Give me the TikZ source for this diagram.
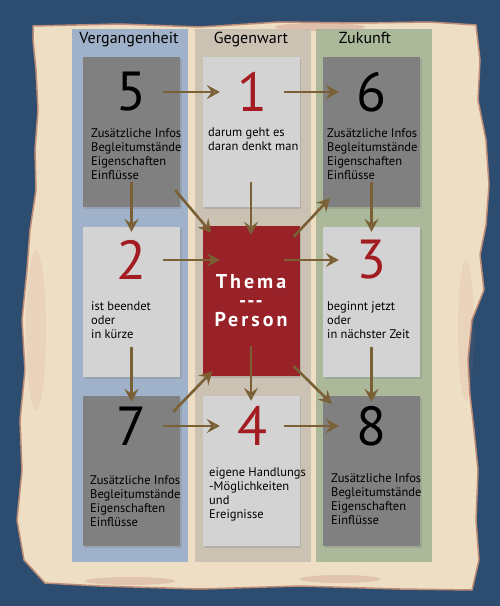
\documentclass[tikz,border=0pt]{standalone}
\usepackage{fontspec}
\setmainfont{PT Sans}
\usetikzlibrary{arrows.meta,shadows}

\definecolor{deskblue}{RGB}{44,77,112}
\definecolor{paper}{RGB}{238,222,196}
\definecolor{paperedge}{RGB}{190,140,118}
\definecolor{stain}{RGB}{190,120,110}
\definecolor{pastband}{RGB}{152,174,202}
\definecolor{nowband}{RGB}{201,191,179}
\definecolor{futureband}{RGB}{164,181,150}
\definecolor{darkbox}{RGB}{128,128,128}
\definecolor{lightbox}{RGB}{211,211,211}
\definecolor{themared}{RGB}{152,34,40}
\definecolor{numred}{RGB}{162,28,34}
\definecolor{arrowbrown}{RGB}{122,96,52}

\tikzset{
  band/.style={minimum width=116pt, minimum height=533pt, inner sep=0pt, opacity=.9},
  coltitle/.style={font=\fontsize{16}{16}\selectfont, anchor=base},
  card/.style={minimum width=97pt, minimum height=150pt, inner sep=0pt,
    drop shadow={opacity=.3, shadow xshift=1.5pt, shadow yshift=-1.5pt}},
  darkcard/.style={card, fill=darkbox},
  lightcard/.style={card, fill=lightbox},
  num/.style={font=\fontsize{55}{55}\selectfont, minimum width=64pt, inner sep=0pt},
  info/.style={font=\fontsize{12.5}{14}\selectfont, align=left, anchor=north west, inner sep=0pt},
  flow/.style={draw=arrowbrown, line width=2.6pt,
    -{Stealth[open,length=13pt,width=14pt,inset=5pt]}}
}

\begin{document}
\begin{tikzpicture}[x=1pt,y=-1pt]
    \useasboundingbox (0,0) rectangle (500,606);
    % desk
    \fill[deskblue] (0,0) rectangle (500,606);
    % paper sheet
    \filldraw[fill=paper, draw=paperedge, line width=1.5pt, line join=round]
      (33,26) -- (120,24) -- (200,27) -- (280,22) -- (360,23) -- (430,22) -- (476,25)
      -- (480,60) -- (478,100) -- (486,140) -- (489,185) -- (486,225) -- (480,255)
      -- (484,290) -- (472,320) -- (468,360) -- (470,395) -- (474,430) -- (478,470)
      -- (476,520) -- (479,560) -- (472,590) -- (400,589) -- (300,586) -- (200,589)
      -- (100,586) -- (45,583) -- (24,560) -- (17,520) -- (22,470) -- (20,420)
      -- (25,370) -- (22,320) -- (27,270) -- (30,230) -- (36,190) -- (35,150)
      -- (38,110) -- (36,70) -- (33,40) -- cycle;
    % stains
    \fill[stain, opacity=.3] (320,27) ellipse [x radius=45, y radius=4];
    \fill[stain, opacity=.25] (130,581) ellipse [x radius=45, y radius=4];
    \fill[stain, opacity=.25] (340,579) ellipse [x radius=40, y radius=4];
    \fill[stain, opacity=.1] (36,330) ellipse [x radius=10, y radius=80];
    \fill[stain, opacity=.1] (466,330) ellipse [x radius=8, y radius=70];
    % column bands
    \node[band, fill=pastband] (past) at (129.5,295.5) {};
    \node[band, fill=nowband] (now) at (252.5,295.5) {};
    \node[band, fill=futureband] (future) at (374,295.5) {};
    \node[coltitle] (tpast) at (129,43) {Vergangenheit};
    \node[coltitle] (tnow) at (251,43) {Gegenwart};
    \node[coltitle] (tfuture) at (365,43) {Zukunft};
    % cards
    \node[darkcard] (b5) at (131.5,132) {};
    \node[lightcard] (b1) at (251,132) {};
    \node[darkcard] (b6) at (371.5,132) {};
    \node[lightcard] (b2) at (131.5,302) {};
    \node[card, fill=themared, text=white, align=center,
      font=\fontsize{20}{19}\selectfont\bfseries\addfontfeatures{LetterSpace=15}]
      (thema) at (251,301) {Thema\\-\kern1pt-\kern1pt-\\Person};
    \node[lightcard] (b3) at (371.5,302) {};
    \node[darkcard] (b7) at (131.5,471) {};
    \node[lightcard] (b4) at (251,471) {};
    \node[darkcard] (b8) at (371.5,471) {};
    % numbers
    \node[num] (n5) at (131,92) {5};
    \node[num, text=numred] (n1) at (252,92) {1};
    \node[num] (n6) at (371,92) {6};
    \node[num, text=numred] (n2) at (131,260) {2};
    \node[num] (nmid) at (252,260) {};
    \node[num, text=numred] (n3) at (371,260) {3};
    \node[num] (n7) at (131,426) {7};
    \node[num, text=numred] (n4) at (252,426) {4};
    \node[num] (n8) at (371,426) {8};
    % texts
    \node[info] (i5) at (91,128) {Zusätzliche Infos\\Begleitumstände\\Eigenschaften\\Einflüsse};
    \node[info] (i1) at (208,128) {darum geht es\\daran denkt man};
    \node[info] (i6) at (327,128) {Zusätzliche Infos\\Begleitumstände\\Eigenschaften\\Einflüsse};
    \node[info] (i2) at (91,301) {ist beendet\\oder\\in kürze};
    \node[info] (i3) at (327,301) {beginnt jetzt\\oder\\in nächster Zeit};
    \node[info] (i7) at (90,475) {Zusätzliche Infos\\Begleitumstände\\Eigenschaften\\Einflüsse};
    \node[info] (i4) at (209,467) {eigene Handlungs\\-Möglichkeiten\\und\\Ereignisse};
    \node[info] (i8) at (331,473) {Zusätzliche Infos\\Begleitumstände\\Eigenschaften\\Einflüsse};
    % arrows along the rows
    \draw[flow] (n5) -- (n1);
    \draw[flow] (n1) -- (n6);
    \draw[flow] (n2) -- (nmid);
    \draw[flow] (nmid) -- (n3);
    \draw[flow] (n7) -- (n4);
    \draw[flow] (n4) -- (n8);
    % arrows down the columns
    \draw[flow] ([yshift=25pt]b5.south) -- ([yshift=-5pt]b2.north);
    \draw[flow] ([yshift=25pt]b1.south) -- ([yshift=-9pt]thema.north);
    \draw[flow] ([yshift=25pt]b6.south) -- ([yshift=-5pt]b3.north);
    \draw[flow] ([yshift=30pt]b2.south) -- ([yshift=-6pt]b7.north);
    \draw[flow] ([yshift=30pt]thema.south) -- ([yshift=-5pt]b4.north);
    \draw[flow] ([yshift=30pt]b3.south) -- ([yshift=-6pt]b8.north);
    % diagonal arrows
    \draw[flow] ([xshift=-5pt,yshift=17pt]b5.south east) -- ([xshift=9pt,yshift=-7pt]thema.north west);
    \draw[flow] ([xshift=-6pt,yshift=-11pt]thema.north east) -- ([xshift=7pt,yshift=9pt]b6.south west);
    \draw[flow] ([xshift=-7pt,yshift=-16pt]b7.north east) -- ([xshift=10pt,yshift=5pt]thema.south west);
    \draw[flow] ([xshift=-6pt,yshift=10pt]thema.south east) -- ([xshift=9pt,yshift=-8pt]b8.north west);
\end{tikzpicture}
\end{document}
